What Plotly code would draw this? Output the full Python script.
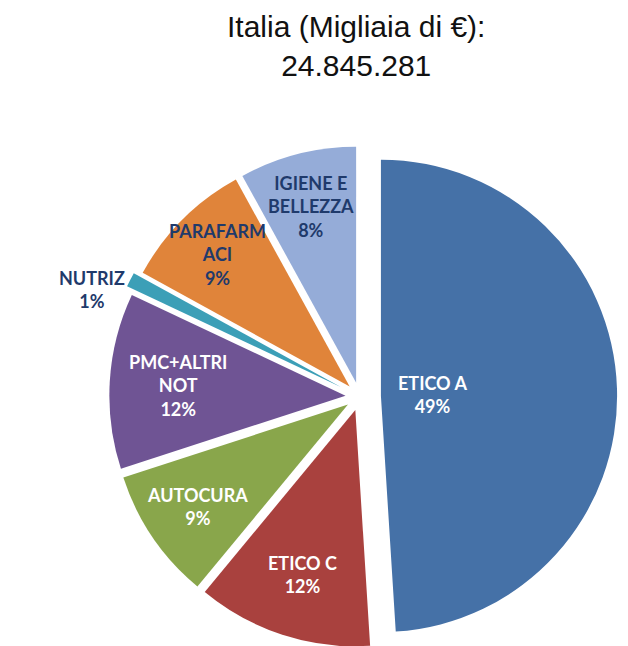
import math
import plotly.graph_objects as go

categories = ["ETICO A", "ETICO C", "AUTOCURA", "PMC+ALTRI NOT", "NUTRIZ", "PARAFARMACI", "IGIENE E BELLEZZA"]
shares = [49, 12, 9, 12, 1, 9, 8]
label_lines = ["ETICO A", "ETICO C", "AUTOCURA", "PMC+ALTRI<br>NOT", "NUTRIZ", "PARAFARM<br>ACI", "IGIENE E<br>BELLEZZA"]
title_lines = ["Italia (Migliaia di €):", "24.845.281"]

# styling
colors = ["#4571A7", "#A9413E", "#89A64B", "#6F5494", "#3C9FB7", "#E0843A", "#95ACD8"]
text_colors = ["white", "white", "white", "white", "#1F3A6B", "#1F3A6B", "#1F3A6B"]
pulls = [0.09, 0.06, 0.06, 0.06, 0.09, 0.06, 0.06]
label_radius = [0.22, 0.73, 0.77, 0.71, None, 0.79, 0.77]   # fraction of radius from slice tip; None = outside

W, H = 628, 646
dom_x = [0.12, 1.0]
dom_y = [0.0, 0.797]
font_family = "Lato, 'Open Sans', sans-serif"

texts = [f"{l}<br>{v}%" for l, v in zip(label_lines, shares)]

fig = go.Figure(go.Pie(
    labels=categories,
    values=shares,
    textinfo="none",
    sort=False,
    direction="clockwise",
    rotation=0,
    pull=pulls,
    marker=dict(colors=colors, line=dict(width=0)),
    domain=dict(x=dom_x, y=dom_y),
    showlegend=False,
    hoverinfo="label+percent",
))

# slice labels, positioned along each slice's bisector using the pie geometry
R = min(W * (dom_x[1] - dom_x[0]), H * (dom_y[1] - dom_y[0])) / 2 / (1 + max(pulls))
cx = W * (dom_x[0] + dom_x[1]) / 2
cy = H * (1 - (dom_y[0] + dom_y[1]) / 2)
total = sum(shares)
cum = 0
for v, t, p, f, col in zip(shares, texts, pulls, label_radius, text_colors):
    mid = (cum + v / 2) / total * 2 * math.pi
    cum += v
    dx, dy = math.sin(mid), -math.cos(mid)
    if f is None:
        r = R * (1 + p) + 4
        xanchor = "right" if dx < 0 else "left"
        yshift = -12
    else:
        r = R * (p + f)
        xanchor = "center"
        yshift = 0
    px_x = cx + r * dx
    px_y = cy + r * dy
    fig.add_annotation(
        x=px_x / W, y=1 - px_y / H, xref="paper", yref="paper",
        text=t, showarrow=False, xanchor=xanchor, yanchor="middle", yshift=yshift,
        font=dict(family=font_family, size=18, color=col, weight="bold"),
    )

# chart title
fig.add_annotation(
    x=0.554, y=1.0, xref="paper", yref="paper", xanchor="center", yanchor="top",
    text="<br>".join(title_lines), showarrow=False, align="center",
    font=dict(family="Liberation Sans, Arial", size=30, color="#111111"),
)

fig.update_layout(
    width=W, height=H,
    margin=dict(l=0, r=0, t=0, b=0),
    paper_bgcolor="white",
)

fig.write_html("out.html")
